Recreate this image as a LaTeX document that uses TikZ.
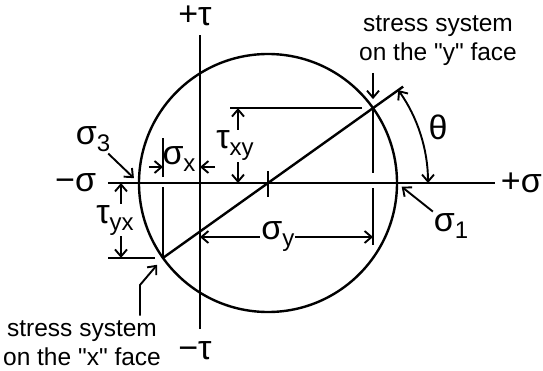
\documentclass[tikz,border=0pt]{standalone}
\usepackage{fontspec}
\setmainfont{Liberation Sans}
\usetikzlibrary{arrows.meta,positioning}

\newcommand{\lowsub}[1]{\raisebox{-7pt}{\fontsize{24}{24}\selectfont #1}}

\begin{document}
\begin{tikzpicture}[>={Straight Barb[length=7pt,width=12pt]}, line width=1.9pt, x=1pt, y=1pt,
    greek/.style={font=\fontsize{34}{34}\selectfont, inner sep=1pt},
    note/.style={font=\fontsize{24.5}{29}\selectfont, align=center, inner sep=0pt},
    heavy/.style={line width=2.4pt}]
  %================= Parameters (edit these) =================
  \def\R{129}     % circle radius
  \def\ang{35.5}  % angle of the X--Y diameter
  \def\tx{-68}    % position of the tau axis
  \def\sxh{16}    % height of the sigma_x dimension
  \def\syh{-54}   % height of the sigma_y dimension
  \def\txyx{-30}  % x of the tau_xy dimension
  \def\tyxx{-147} % x of the tau_yx dimension
  \useasboundingbox (-268,-187) rectangle (275,183);

  %================= Axes =================
  \coordinate (sl) at (-160,0);
  \coordinate (sr) at (227,0);
  \coordinate (tt) at (\tx,148);
  \coordinate (tb) at (\tx,-146);
  \draw (sl) -- (sr);
  \draw (tb) -- (tt);
  \node[greek, left=10pt] (msig) at (sl) {−σ};
  \node[greek, right=4pt] (psig) at (sr) {+σ};
  \node[greek, above=7pt, xshift=-5pt] (ptau) at (tt) {+τ};
  \node[greek, below=11pt, xshift=-5pt] (mtau) at (tb) {−τ};

  %================= Circle and diameter =================
  \coordinate (C) at (0,0);
  \coordinate (Y) at (\ang:\R);
  \coordinate (X) at (180+\ang:\R);
  \coordinate (Yend) at (\ang:166);
  \coordinate (s1) at (\R,0);
  \coordinate (s3) at (-\R,0);
  \draw[heavy] (C) circle[radius=\R];
  \draw[heavy] (X) -- (Yend);
  \draw (0,12) -- (0,-14);

  %================= Projection lines (broken at the sigma axis) =================
  \draw (X) -- ([yshift=-4pt]X |- C);
  \draw ([yshift=6pt]X |- C) -- ([yshift=45pt]X |- C);
  \draw (Y) -- ([yshift=10pt]Y |- C);
  \draw ([yshift=-5pt]Y |- C) -- ([yshift=-62pt]Y |- C);
  \draw ([xshift=-11pt]Y) -- (-38,0 |- Y);
  \draw ([xshift=-8pt]X) -- (-160,0 |- X);

  %================= Dimensions =================
  \draw[<->] (\txyx,0) -- (\txyx,0 |- Y)
    node[midway, greek, fill=white, xshift=-3pt] (txy) {τ\lowsub{xy}};
  \draw[->] ([xshift=-14pt]X |- 0,\sxh) -- (X |- 0,\sxh);
  \draw[->] (\tx+15,\sxh) -- (\tx,\sxh);
  \node[greek, anchor=base] (sx) at (-89,19) {σ\lowsub{x}};
  \draw[<->] (\tyxx,0) -- (\tyxx,0 |- X)
    node[midway, greek, fill=white, xshift=-6pt] (tyx) {τ\lowsub{yx}};
  \draw[<->] (\tx,\syh) -- (Y |- 0,\syh)
    node[pos=0.45, greek, fill=white] (sy) {σ\lowsub{y}};

  %================= Principal stresses and angle =================
  \node[greek] (s3lbl) at (-175,44) {σ\lowsub{3}};
  \draw[->, shorten >=7pt] (s3lbl) -- (s3);
  \node[greek] (s1lbl) at (183,-43) {σ\lowsub{1}};
  \draw[->, shorten >=6pt] (s1lbl) -- (s1);
  \draw[<->] (\ang:160) arc[start angle=\ang, end angle=0, radius=160];
  \node[greek] (th) at (170,56) {θ};

  %================= Face notes =================
  \node[note] (ynote) at (170,142) {stress system\\on the \textquotedbl y\textquotedbl{} face};
  \draw[->, shorten <=6pt, shorten >=9pt] (ynote.south -| Y) -- (Y);
  \node[note] (xnote) at (-186,-160) {stress system\\on the \textquotedbl x\textquotedbl{} face};
  \coordinate (xbend) at (-128,-102);
  \draw[->, shorten <=4pt, shorten >=9pt] (xnote.north -| xbend) -- (xbend) -- (X);
\end{tikzpicture}
\end{document}
